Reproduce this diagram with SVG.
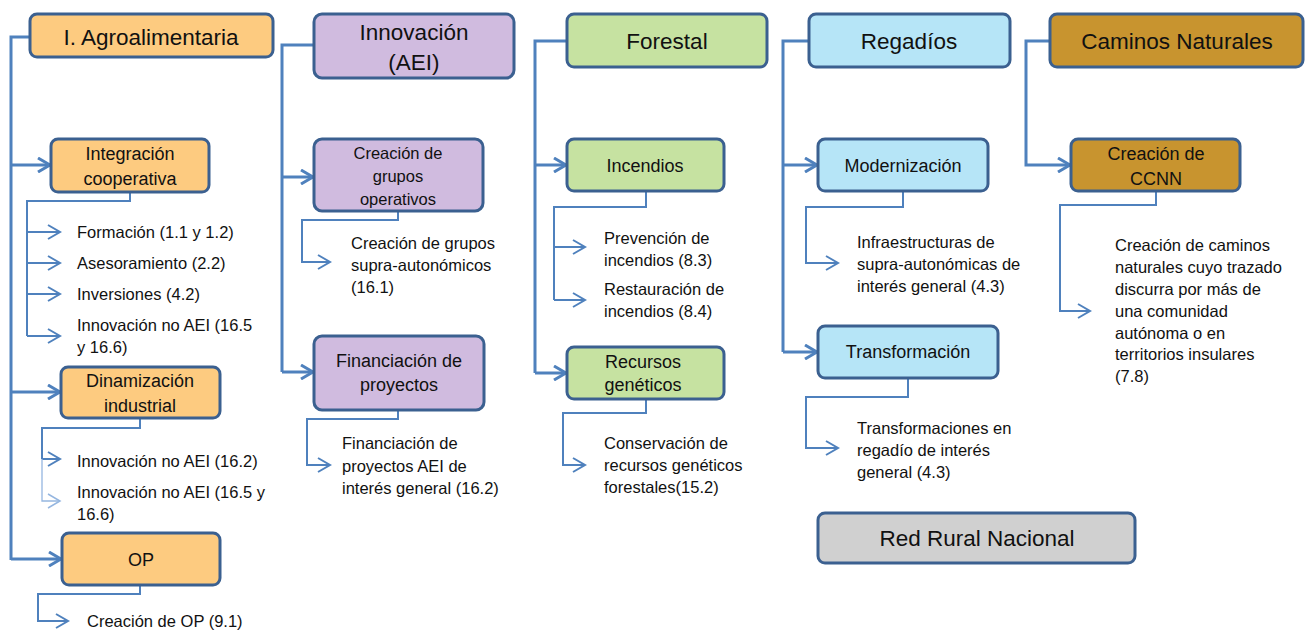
<svg xmlns="http://www.w3.org/2000/svg" width="1306" height="632" viewBox="0 0 1306 632">
<style>
.b{stroke:#3B6090;stroke-width:3}
.or{fill:#FDCB80}.pu{fill:#D0BBDF}.gr{fill:#C6E2A1}.bl{fill:#B6E5F7}.go{fill:#C8942F}.gy{fill:#D0D0D0}
text{font-family:"Liberation Sans",Arial,sans-serif;fill:#111}
.h{font-size:22.5px;text-anchor:middle}
.n{font-size:18px;text-anchor:middle}
.l{font-size:16.5px}
.m{fill:none;stroke:#4F81BD;stroke-width:3}
.s{fill:none;stroke:#4F81BD;stroke-width:2}
.t{fill:none;stroke:#95B6E0;stroke-width:1.3}
</style>
<defs>
<marker id="a" viewBox="0 0 15 16" refX="13" refY="8" markerWidth="15" markerHeight="16" markerUnits="userSpaceOnUse" orient="auto"><path d="M1,1 L13,8 L1,15" fill="none" stroke="#4F81BD" stroke-width="3"/></marker>
<marker id="a2" viewBox="0 0 15 16" refX="13" refY="8" markerWidth="15" markerHeight="16" markerUnits="userSpaceOnUse" orient="auto"><path d="M1,1 L13,8 L1,15" fill="none" stroke="#4F81BD" stroke-width="2"/></marker>
<marker id="a3" viewBox="0 0 15 16" refX="13" refY="8" markerWidth="15" markerHeight="16" markerUnits="userSpaceOnUse" orient="auto"><path d="M1,1 L13,8 L1,15" fill="none" stroke="#95B6E0" stroke-width="1.5"/></marker>
</defs>
<g id="connectors">
<path class="m" d="M30,37 H11 V560"/>
<path class="m" d="M11,165 H50" marker-end="url(#a)"/>
<path class="m" d="M11,392 H60" marker-end="url(#a)"/>
<path class="m" d="M11,559 H61" marker-end="url(#a)"/>
<path class="s" d="M130,192 V201 H27 V336"/>
<path class="s" d="M27,232 H60" marker-end="url(#a2)"/>
<path class="s" d="M27,263 H60" marker-end="url(#a2)"/>
<path class="s" d="M27,294 H60" marker-end="url(#a2)"/>
<path class="s" d="M27,336 H60" marker-end="url(#a2)"/>
<path class="s" d="M140,418 V428 H42 V459"/>
<path class="s" d="M42,459 H60" marker-end="url(#a2)"/>
<path class="t" d="M42,459 V501 H60" marker-end="url(#a3)"/>
<path class="s" d="M140,585 V594 H38 V621 H68" marker-end="url(#a2)"/>
<path class="m" d="M314,45 H282 V372"/>
<path class="m" d="M282,177 H313" marker-end="url(#a)"/>
<path class="m" d="M282,372 H313" marker-end="url(#a)"/>
<path class="s" d="M398,211 V220 H302 V262 H330" marker-end="url(#a2)"/>
<path class="s" d="M398,410 V419 H307 V465 H330" marker-end="url(#a2)"/>
<path class="m" d="M567,41 H535 V373"/>
<path class="m" d="M535,165 H566" marker-end="url(#a)"/>
<path class="m" d="M535,373 H566" marker-end="url(#a)"/>
<path class="s" d="M646,191 V207 H554 V300"/>
<path class="s" d="M554,247 H585" marker-end="url(#a2)"/>
<path class="s" d="M554,300 H585" marker-end="url(#a2)"/>
<path class="s" d="M646,399 V413 H563 V465 H585" marker-end="url(#a2)"/>
<path class="m" d="M809,41 H783 V352"/>
<path class="m" d="M783,165 H817" marker-end="url(#a)"/>
<path class="m" d="M783,352 H817" marker-end="url(#a)"/>
<path class="s" d="M903,191 V207 H806 V263 H838" marker-end="url(#a2)"/>
<path class="s" d="M908,378 V397 H806 V448 H838" marker-end="url(#a2)"/>
<path class="m" d="M1050,41 H1026 V165 H1070" marker-end="url(#a)"/>
<path class="s" d="M1156,191 V205 H1060 V311 H1090" marker-end="url(#a2)"/>
</g>
<g id="agroalimentaria"><rect class="b or" x="30" y="14" width="243" height="43" rx="7"/><text class="h" x="151" y="45">I. Agroalimentaria</text></g>
<g id="integracion"><rect class="b or" x="51" y="139" width="158" height="53" rx="7"/><text class="n" x="130" y="160">Integración</text><text class="n" x="130" y="185">cooperativa</text></g>
<g id="dinamizacion"><rect class="b or" x="61" y="367" width="159" height="51" rx="7"/><text class="n" x="140" y="387">Dinamización</text><text class="n" x="140" y="412">industrial</text></g>
<g id="op"><rect class="b or" x="62" y="533" width="158" height="52" rx="7"/><text class="n" x="141" y="566">OP</text></g>
<g id="agro-leaves">
<text class="l" x="77" y="238">Formación (1.1 y 1.2)</text>
<text class="l" x="77" y="269">Asesoramiento (2.2)</text>
<text class="l" x="77" y="300">Inversiones (4.2)</text>
<text class="l" x="77" y="331">Innovación no AEI (16.5</text>
<text class="l" x="77" y="353">y 16.6)</text>
<text class="l" x="77" y="467">Innovación no AEI (16.2)</text>
<text class="l" x="77" y="498">Innovación no AEI (16.5 y</text>
<text class="l" x="77" y="520">16.6)</text>
<text class="l" x="87" y="627">Creación de OP (9.1)</text>
</g>
<g id="innovacion"><rect class="b pu" x="314" y="14" width="200" height="64" rx="8"/><text class="h" x="414" y="40">Innovación</text><text class="h" x="414" y="70">(AEI)</text></g>
<g id="grupos"><rect class="b pu" x="314" y="139" width="169" height="72" rx="8"/><text class="l" text-anchor="middle" x="398" y="159">Creación de</text><text class="l" text-anchor="middle" x="398" y="182">grupos</text><text class="l" text-anchor="middle" x="398" y="205">operativos</text></g>
<g id="financiacion"><rect class="b pu" x="314" y="336" width="170" height="74" rx="8"/><text class="n" x="399" y="367">Financiación de</text><text class="n" x="399" y="391">proyectos</text></g>
<g id="innov-leaves">
<text class="l" x="351" y="249">Creación de grupos</text>
<text class="l" x="351" y="271">supra-autonómicos</text>
<text class="l" x="351" y="293">(16.1)</text>
<text class="l" x="342" y="449">Financiación de</text>
<text class="l" x="342" y="472">proyectos AEI de</text>
<text class="l" x="342" y="494">interés general (16.2)</text>
</g>
<g id="forestal"><rect class="b gr" x="567" y="14" width="200" height="53" rx="7"/><text class="h" x="667" y="49">Forestal</text></g>
<g id="incendios"><rect class="b gr" x="567" y="139" width="157" height="52" rx="7"/><text class="n" x="645" y="172">Incendios</text></g>
<g id="recursos"><rect class="b gr" x="567" y="347" width="157" height="52" rx="7"/><text class="n" x="643" y="368">Recursos</text><text class="n" x="643" y="391">genéticos</text></g>
<g id="forestal-leaves">
<text class="l" x="604" y="244">Prevención de</text>
<text class="l" x="604" y="266">incendios (8.3)</text>
<text class="l" x="604" y="295">Restauración de</text>
<text class="l" x="604" y="317">incendios (8.4)</text>
<text class="l" x="604" y="449">Conservación de</text>
<text class="l" x="604" y="471">recursos genéticos</text>
<text class="l" x="604" y="493">forestales(15.2)</text>
</g>
<g id="regadios"><rect class="b bl" x="809" y="14" width="201" height="53" rx="7"/><text class="h" x="909" y="49">Regadíos</text></g>
<g id="modernizacion"><rect class="b bl" x="818" y="139" width="170" height="52" rx="7"/><text class="n" x="903" y="172">Modernización</text></g>
<g id="transformacion"><rect class="b bl" x="818" y="326" width="180" height="52" rx="7"/><text class="n" x="908" y="358">Transformación</text></g>
<g id="regadios-leaves">
<text class="l" x="857" y="248">Infraestructuras de</text>
<text class="l" x="857" y="270">supra-autonómicas de</text>
<text class="l" x="857" y="292">interés general (4.3)</text>
<text class="l" x="857" y="434">Transformaciones en</text>
<text class="l" x="857" y="456">regadío de interés</text>
<text class="l" x="857" y="478">general (4.3)</text>
</g>
<g id="red-rural"><rect class="b gy" x="818" y="513" width="317" height="50" rx="7"/><text class="h" x="977" y="546">Red Rural Nacional</text></g>
<g id="caminos"><rect class="b go" x="1050" y="14" width="253" height="53" rx="7"/><text class="h" x="1177" y="49">Caminos Naturales</text></g>
<g id="ccnn"><rect class="b go" x="1071" y="139" width="169" height="52" rx="7"/><text class="n" x="1156" y="160">Creación de</text><text class="n" x="1156" y="185">CCNN</text></g>
<g id="caminos-leaves">
<text class="l" x="1115" y="251">Creación de caminos</text>
<text class="l" x="1115" y="273">naturales cuyo trazado</text>
<text class="l" x="1115" y="295">discurra por más de</text>
<text class="l" x="1115" y="317">una comunidad</text>
<text class="l" x="1115" y="339">autónoma o en</text>
<text class="l" x="1115" y="360">territorios insulares</text>
<text class="l" x="1115" y="382">(7.8)</text>
</g>
</svg>
